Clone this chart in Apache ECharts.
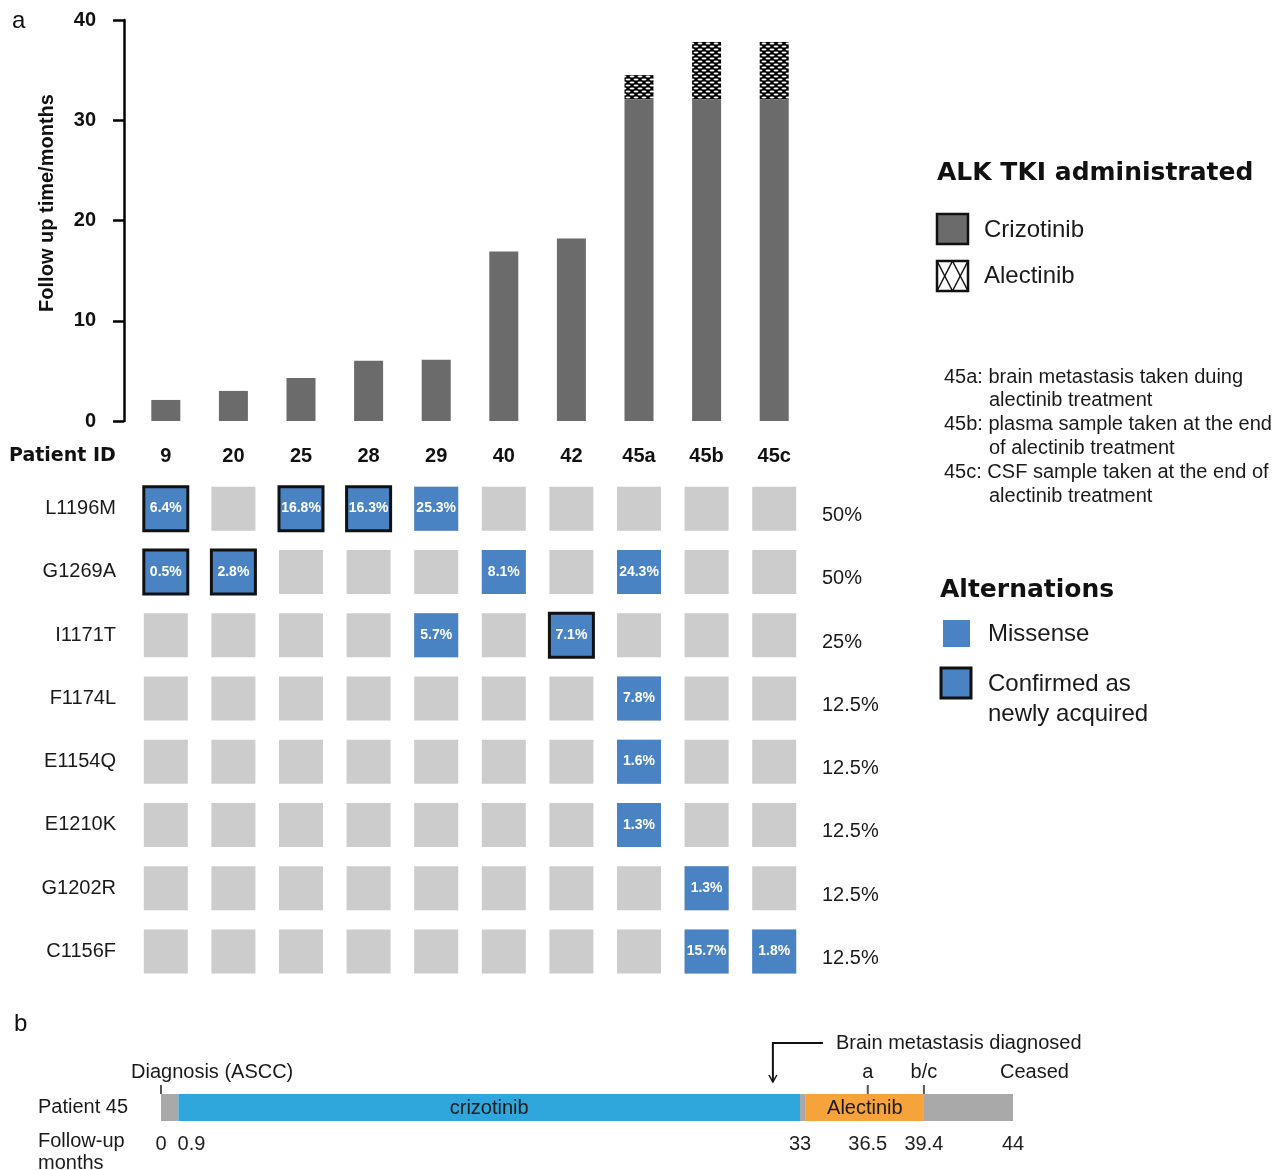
<!DOCTYPE html>
<html>
<head>
    <meta charset="UTF-8">
    <title>ALK TKI follow up and resistance mutations</title>
    <script type="text/javascript" src="https://cdn.jsdelivr.net/npm/echarts@6/dist/echarts.min.js"></script>
    <style>
        body { margin: 0; background: #fff; }
        #main { width: 1274px; height: 1170px; }
    </style>
</head>
<body>
<div id="main"></div>
<script>
    // ---- data ----
    var patients = ['9', '20', '25', '28', '29', '40', '42', '45a', '45b', '45c'];
    var crizotinibMonths = [2.1, 3.0, 4.3, 6.0, 6.1, 16.9, 18.2, 32.1, 32.1, 32.1];
    var alectinibMonths = [0, 0, 0, 0, 0, 0, 0, 2.4, 5.7, 5.7];

    var mutations = ['L1196M', 'G1269A', 'I1171T', 'F1174L', 'E1154Q', 'E1210K', 'G1202R', 'C1156F'];
    var frequencies = ['50%', '50%', '25%', '12.5%', '12.5%', '12.5%', '12.5%', '12.5%'];
    // [patient, mutation, allele frequency %, confirmed as newly acquired]
    var calls = [
        ['9', 'L1196M', 6.4, 1], ['25', 'L1196M', 16.8, 1], ['28', 'L1196M', 16.3, 1], ['29', 'L1196M', 25.3, 0],
        ['9', 'G1269A', 0.5, 1], ['20', 'G1269A', 2.8, 1], ['40', 'G1269A', 8.1, 0], ['45a', 'G1269A', 24.3, 0],
        ['29', 'I1171T', 5.7, 0], ['42', 'I1171T', 7.1, 1],
        ['45a', 'F1174L', 7.8, 0], ['45a', 'E1154Q', 1.6, 0], ['45a', 'E1210K', 1.3, 0],
        ['45b', 'G1202R', 1.3, 0], ['45b', 'C1156F', 15.7, 0], ['45c', 'C1156F', 1.8, 0]
    ];

    // patient 45 timeline (months)
    var phaseStart = [0, 0.9, 33, 33.3, 39.4];
    var phaseEnd = [0.9, 33, 33.3, 39.4, 44];
    var phaseNames = ['', 'crizotinib', '', 'Alectinib', ''];
    var monthLabels = [0, 0.9, 33, 36.5, 39.4, 44];
    var eventMonths = [0, 36.5, 39.4, 44];
    var eventNames = ['Diagnosis (ASCC)', 'a', 'b/c', 'Ceased'];
    var brainMetMonth = 31.6;

    // ---- styles ----
    var FONT = 'Liberation Sans, Arial, sans-serif';
    var HEAVY = 'DejaVu Sans, sans-serif';
    var GREY_BAR = '#6b6b6b';
    var CELL = '#cccccc';
    var BLUE = '#4a83c4';
    var phaseColors = ['#a9a9a9', '#2fa6dc', '#a9a9a9', '#f6a33b', '#a9a9a9'];

    function hatch() {
        var c = document.createElement('canvas');
        c.width = 8; c.height = 6;
        var ctx = c.getContext('2d');
        ctx.fillStyle = '#000';
        ctx.fillRect(0, 0, 8, 6);
        ctx.fillStyle = '#fff';
        [[4, 1.5], [0, 4.5], [8, 4.5]].forEach(function (p) {
            ctx.beginPath();
            ctx.ellipse(p[0], p[1], 2.5, 1.1, 0, 0, Math.PI * 2);
            ctx.fill();
        });
        return c;
    }

    var cells = [];
    patients.forEach(function (p) {
        mutations.forEach(function (m) { cells.push([p, m]); });
    });
    var hits = calls.map(function (c) {
        return {
            value: [c[0], c[1], c[2]],
            itemStyle: c[3] ? {borderColor: '#111', borderWidth: 3} : {borderWidth: 0}
        };
    });

    var myChart = echarts.init(document.getElementById('main'));
    myChart.setOption({
        animation: false,
        textStyle: {fontFamily: FONT},
        grid: [
            {left: 132, top: 20, width: 676, height: 401},
            {left: 132, top: 477, width: 676, height: 506},
            {left: 161, top: 1094, width: 852, height: 27}
        ],
        xAxis: [
            {
                type: 'category', gridIndex: 0, data: patients,
                axisLine: {show: false}, axisTick: {show: false},
                axisLabel: {margin: 25, fontSize: 20, fontWeight: 'bold', color: '#111'}
            },
            {type: 'category', gridIndex: 1, data: patients, show: false},
            {
                type: 'value', gridIndex: 2, min: 0, max: 44,
                axisLine: {show: false}, axisTick: {show: false}, splitLine: {show: false},
                axisLabel: {
                    customValues: monthLabels, margin: 13, fontSize: 20, color: '#222',
                    formatter: function (v) { return v === 0.9 ? '{r|0.9}' : String(v); },
                    rich: {r: {fontSize: 20, color: '#222', padding: [0, 0, 0, 26]}}
                }
            }
        ],
        yAxis: [
            {
                type: 'value', gridIndex: 0, min: 0, max: 40, interval: 10, offset: 8,
                axisLine: {show: true, lineStyle: {color: '#000', width: 2.5}},
                axisTick: {show: true, length: 11, lineStyle: {color: '#000', width: 2.5}},
                splitLine: {show: false},
                axisLabel: {margin: 28, fontSize: 20, fontWeight: 'bold', color: '#111'}
            },
            {
                type: 'category', gridIndex: 1, data: mutations, inverse: true,
                axisLine: {show: false}, axisTick: {show: false},
                axisLabel: {margin: 16, fontSize: 20, color: '#1a1a1a'}
            },
            {
                type: 'category', gridIndex: 1, data: frequencies, inverse: true, position: 'right',
                axisLine: {show: false}, axisTick: {show: false},
                axisLabel: {margin: 14, fontSize: 20, color: '#1a1a1a', verticalAlign: 'top', lineHeight: 14}
            },
            {
                type: 'category', gridIndex: 2, data: ['Patient 45'],
                axisLine: {show: false}, axisTick: {show: false},
                axisLabel: {margin: 33, fontSize: 20, color: '#1a1a1a'}
            }
        ],
        series: [
            {
                name: 'Crizotinib', type: 'bar', xAxisIndex: 0, yAxisIndex: 0, stack: 'tki',
                barWidth: 29, itemStyle: {color: GREY_BAR}, data: crizotinibMonths
            },
            {
                name: 'Alectinib', type: 'bar', xAxisIndex: 0, yAxisIndex: 0, stack: 'tki',
                barWidth: 29, itemStyle: {color: {image: hatch(), repeat: 'repeat'}}, data: alectinibMonths
            },
            {
                type: 'scatter', xAxisIndex: 1, yAxisIndex: 1, symbol: 'rect', symbolSize: 44,
                itemStyle: {color: CELL, opacity: 1}, silent: true, data: cells, z: 1
            },
            {
                type: 'scatter', xAxisIndex: 1, yAxisIndex: 1, symbol: 'rect', symbolSize: 44,
                itemStyle: {color: BLUE, opacity: 1}, silent: true, z: 3,
                label: {
                    show: true, position: 'inside', color: '#fff', fontSize: 14, fontWeight: 'bold',
                    formatter: function (p) { return p.value[2] + '%'; }
                },
                data: hits
            },
            {
                type: 'custom', xAxisIndex: 2, yAxisIndex: 3, silent: true,
                encode: {x: [0, 1]},
                data: phaseStart.map(function (s, i) { return [s, phaseEnd[i]]; }),
                renderItem: function (params, api) {
                    var a = api.coord([api.value(0), 0]);
                    var b = api.coord([api.value(1), 0]);
                    var h = api.size([0, 1])[1];
                    var i = params.dataIndex;
                    return {
                        type: 'group', children: [
                            {type: 'rect', shape: {x: a[0], y: a[1] - h / 2, width: b[0] - a[0], height: h},
                                style: {fill: phaseColors[i]}},
                            {type: 'text', style: {text: phaseNames[i], x: (a[0] + b[0]) / 2, y: a[1] + 1,
                                    align: 'center', verticalAlign: 'middle', fill: '#1a1a1a', font: '20px ' + FONT}}
                        ]
                    };
                }
            },
            {
                type: 'custom', xAxisIndex: 2, yAxisIndex: 3, silent: true,
                encode: {x: 0},
                data: eventMonths.map(function (t) { return [t]; }),
                renderItem: function (params, api) {
                    var p = api.coord([api.value(0), 0]);
                    var top = p[1] - api.size([0, 1])[1] / 2;
                    var i = params.dataIndex;
                    var last = i === eventMonths.length - 1;
                    var kids = [{
                        type: 'text', style: {
                            text: eventNames[i], x: p[0] + (i === 0 ? -30 : last ? -13 : 0), y: top - 22,
                            align: (i === 0 || last) ? 'left' : 'center', verticalAlign: 'middle',
                            fill: '#1a1a1a', font: '20px ' + FONT
                        }
                    }];
                    if (!last) {
                        kids.push({type: 'line', shape: {x1: p[0], y1: top - 9, x2: p[0], y2: top},
                            style: {stroke: '#555', lineWidth: 2}});
                    }
                    return {type: 'group', children: kids};
                }
            },
            {
                type: 'custom', xAxisIndex: 2, yAxisIndex: 3, silent: true,
                encode: {x: 0},
                data: [[brainMetMonth]],
                renderItem: function (params, api) {
                    var p = api.coord([api.value(0), 0]);
                    var top = p[1] - api.size([0, 1])[1] / 2;
                    var y0 = top - 51, y1 = top - 12;
                    return {
                        type: 'group', children: [
                            {type: 'polyline', shape: {points: [[p[0] + 50, y0], [p[0], y0], [p[0], y1]]},
                                style: {stroke: '#111', lineWidth: 2, fill: null}},
                            {type: 'polyline', shape: {points: [[p[0] - 4, y1 - 7], [p[0], y1], [p[0] + 4, y1 - 7]]},
                                style: {stroke: '#111', lineWidth: 1.5, fill: null}},
                            {type: 'text', style: {text: 'Brain metastasis diagnosed', x: p[0] + 63, y: y0,
                                    align: 'left', verticalAlign: 'middle', fill: '#1a1a1a', font: '20px ' + FONT}}
                        ]
                    };
                }
            }
        ],
        graphic: [
            {type: 'text', left: 12, top: 9, style: {text: 'a', font: '24px ' + FONT, fill: '#111'}},
            {type: 'text', left: 14, top: 1012, style: {text: 'b', font: '24px ' + FONT, fill: '#111'}},
            {type: 'text', x: 47, y: 203, rotation: Math.PI / 2,
                style: {text: 'Follow up time/months', align: 'center', verticalAlign: 'middle',
                    font: 'bold 20px ' + FONT, fill: '#111'}},
            {type: 'text', x: 9, y: 456,
                style: {text: 'Patient ID', verticalAlign: 'middle', font: 'bold 19px ' + HEAVY, fill: '#111'}},
            {type: 'text', x: 38, y: 1141,
                style: {text: 'Follow-up', verticalAlign: 'middle', font: '20px ' + FONT, fill: '#1a1a1a'}},
            {type: 'text', x: 38, y: 1163,
                style: {text: 'months', verticalAlign: 'middle', font: '20px ' + FONT, fill: '#1a1a1a'}},

            // legend: ALK TKI
            {type: 'text', x: 937, y: 173,
                style: {text: 'ALK TKI administrated', verticalAlign: 'middle', font: 'bold 25px ' + HEAVY, fill: '#111'}},
            {type: 'rect', shape: {x: 937, y: 214, width: 31, height: 30},
                style: {fill: GREY_BAR, stroke: '#111', lineWidth: 2.5}},
            {type: 'text', x: 984, y: 230,
                style: {text: 'Crizotinib', verticalAlign: 'middle', font: '24px ' + FONT, fill: '#1a1a1a'}},
            {type: 'group', x: 937, y: 261, children: [
                    {type: 'rect', shape: {x: 0, y: 0, width: 31, height: 30}, style: {fill: '#fff', stroke: '#111', lineWidth: 2.5}},
                    {type: 'polyline', shape: {points: [[0, 0], [15.5, 30]]}, style: {stroke: '#111', lineWidth: 1.5}},
                    {type: 'polyline', shape: {points: [[15.5, 0], [0, 30]]}, style: {stroke: '#111', lineWidth: 1.5}},
                    {type: 'polyline', shape: {points: [[15.5, 0], [31, 30]]}, style: {stroke: '#111', lineWidth: 1.5}},
                    {type: 'polyline', shape: {points: [[31, 0], [15.5, 30]]}, style: {stroke: '#111', lineWidth: 1.5}}
                ]},
            {type: 'text', x: 984, y: 276,
                style: {text: 'Alectinib', verticalAlign: 'middle', font: '24px ' + FONT, fill: '#1a1a1a'}},

            // sample notes
            {type: 'text', x: 944, y: 377, style: {text: '45a: brain metastasis taken duing', verticalAlign: 'middle', font: '20px ' + FONT, fill: '#1a1a1a'}},
            {type: 'text', x: 989, y: 400, style: {text: 'alectinib treatment', verticalAlign: 'middle', font: '20px ' + FONT, fill: '#1a1a1a'}},
            {type: 'text', x: 944, y: 424, style: {text: '45b: plasma sample taken at the end', verticalAlign: 'middle', font: '20px ' + FONT, fill: '#1a1a1a'}},
            {type: 'text', x: 989, y: 448, style: {text: 'of alectinib treatment', verticalAlign: 'middle', font: '20px ' + FONT, fill: '#1a1a1a'}},
            {type: 'text', x: 944, y: 472, style: {text: '45c: CSF sample taken at the end of', verticalAlign: 'middle', font: '20px ' + FONT, fill: '#1a1a1a'}},
            {type: 'text', x: 989, y: 496, style: {text: 'alectinib treatment', verticalAlign: 'middle', font: '20px ' + FONT, fill: '#1a1a1a'}},

            // legend: alternations
            {type: 'text', x: 940, y: 590,
                style: {text: 'Alternations', verticalAlign: 'middle', font: 'bold 25px ' + HEAVY, fill: '#111'}},
            {type: 'rect', shape: {x: 943, y: 620, width: 27, height: 27}, style: {fill: BLUE}},
            {type: 'text', x: 988, y: 634,
                style: {text: 'Missense', verticalAlign: 'middle', font: '24px ' + FONT, fill: '#1a1a1a'}},
            {type: 'rect', shape: {x: 941, y: 668, width: 30, height: 30},
                style: {fill: BLUE, stroke: '#111', lineWidth: 3}},
            {type: 'text', x: 988, y: 684,
                style: {text: 'Confirmed as', verticalAlign: 'middle', font: '24px ' + FONT, fill: '#1a1a1a'}},
            {type: 'text', x: 988, y: 714,
                style: {text: 'newly acquired', verticalAlign: 'middle', font: '24px ' + FONT, fill: '#1a1a1a'}}
        ]
    });
</script>
</body>
</html>
